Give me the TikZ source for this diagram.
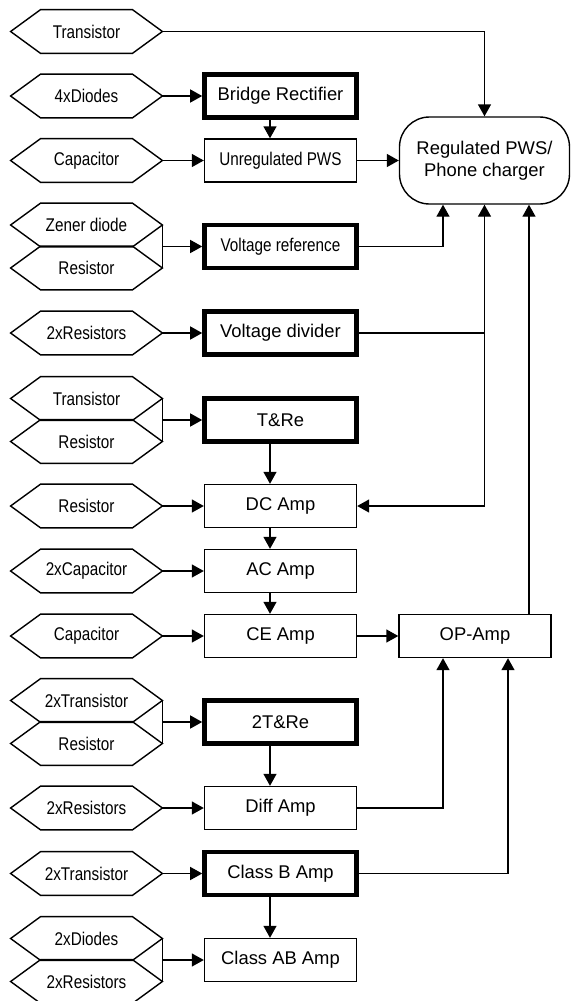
\documentclass[tikz,border=0pt]{standalone}
\usepackage{fontspec}
\setmainfont{Liberation Sans}
\newfontfamily\narrowfont{Liberation Sans}[FakeStretch=0.83]
\newcommand{\narrowtext}{\narrowfont\fontsize{9.2}{11}\selectfont}
\usepackage{tikz}
\usetikzlibrary{positioning}
\usetikzlibrary{shapes.misc,arrows.meta}
\tikzstyle{part} = [rectangle, minimum width=75.5pt, minimum height=21.5pt, inner sep=0pt, text centered, font=\narrowtext,
    append after command={\pgfextra{\draw[line width=.7pt] (\tikzlastnode.west) -- ([xshift=15pt]\tikzlastnode.north west) -- ([xshift=-15pt]\tikzlastnode.north east) -- (\tikzlastnode.east) -- ([xshift=-15pt]\tikzlastnode.south east) -- ([xshift=15pt]\tikzlastnode.south west) -- cycle;}}]
\tikzstyle{stage} = [rectangle, draw, line width=.7pt, minimum width=76pt, minimum height=21.5pt, inner sep=0pt, text centered]
\tikzstyle{keystage} = [stage, line width=2.3pt]
\tikzstyle{goal} = [rectangle, rounded corners=15pt, draw, line width=.7pt, minimum width=85pt, minimum height=43.5pt, inner sep=0pt, align=center]
\tikzstyle{flow} = [draw, line width=.7pt, -{Triangle[length=6pt,width=6.5pt]}]
\tikzstyle{wire} = [draw, line width=.7pt]

\begin{document}
\begin{tikzpicture}[x=0.5pt, y=-0.5pt, font=\fontsize{9.2}{11}\selectfont]
	\useasboundingbox (0,0) rectangle (570,1001);
	% stages
	\node [keystage] (br) at (280.5,96) {Bridge Rectifier};
	\node [stage, font=\narrowtext, below of=br, node distance=32.25pt] (unreg) {Unregulated PWS};
	\node [keystage, font=\narrowtext, below of=unreg, node distance=43pt] (vref) {Voltage reference};
	\node [keystage, below of=vref, node distance=43.25pt] (vdiv) {Voltage divider};
	\node [keystage, below of=vdiv, node distance=43.5pt] (tre) {T\&Re};
	\node [stage, below of=tre, node distance=43pt] (dc) {DC Amp};
	\node [stage, below of=dc, node distance=32.5pt] (ac) {AC Amp};
	\node [stage, below of=ac, node distance=32.5pt] (ce) {CE Amp};
	\node [keystage, below of=ce, node distance=43pt] (tre2) {2T\&Re};
	\node [stage, below of=tre2, node distance=43pt] (diff) {Diff Amp};
	\node [keystage, below of=diff, node distance=32.75pt] (clb) {Class B Amp};
	\node [stage, below of=clb, node distance=43.25pt] (clab) {Class AB Amp};
	\node [goal, right of=unreg, node distance=102pt] (reg) {Regulated PWS/\\Phone charger};
	\node [stage, right of=ce, node distance=97.25pt] (op) {OP-Amp};

	% parts
	\node [part, left of=br, node distance=97pt] (dio4) {4xDiodes};
	\node [part, above of=dio4, node distance=32.25pt] (tr1) {Transistor};
	\node [part, left of=unreg, node distance=97pt] (cap1) {Capacitor};
	\node [part, left of=vref, node distance=97pt, yshift=10.75pt] (zen) {Zener diode};
	\node [part, below of=zen, node distance=21.5pt] (res1) {Resistor};
	\node [part, left of=vdiv, node distance=97pt] (res2) {2xResistors};
	\node [part, left of=tre, node distance=97pt, yshift=10.75pt] (tr2) {Transistor};
	\node [part, below of=tr2, node distance=21.5pt] (res3) {Resistor};
	\node [part, left of=dc, node distance=97pt] (res4) {Resistor};
	\node [part, left of=ac, node distance=97pt] (cap2) {2xCapacitor};
	\node [part, left of=ce, node distance=97pt] (cap3) {Capacitor};
	\node [part, left of=tre2, node distance=97pt, yshift=10.75pt] (tr3) {2xTransistor};
	\node [part, below of=tr3, node distance=21.5pt] (res5) {Resistor};
	\node [part, left of=diff, node distance=97pt] (res6) {2xResistors};
	\node [part, left of=clb, node distance=97pt] (tr4) {2xTransistor};
	\node [part, left of=clab, node distance=97pt, yshift=10.75pt] (dio2) {2xDiodes};
	\node [part, below of=dio2, node distance=21.5pt] (res7) {2xResistors};

	% draw edges
	\path [flow] (tr1.east) -| (reg.north);
	\path [flow] (dio4) -- (br);
	\path [flow] ([xshift=-5.25pt]br.south) -- ([xshift=-5.25pt]unreg.north);
	\path [flow] (cap1) -- (unreg);
	\path [flow] (unreg) -- (reg);
	\path [wire] (zen.east) -- (res1.east);
	\path [flow] (zen.east |- vref.west) -- (vref.west);
	\path [flow] (vref.east) -| ([xshift=-20.75pt]reg.south);
	\path [flow] (res2) -- (vdiv);
	\path [flow] (vdiv.east) -| (reg.south);
	\path [flow] (vdiv.east) -| (reg.south |- dc.east) -- (dc.east);
	\path [wire] (tr2.east) -- (res3.east);
	\path [flow] (tr2.east |- tre.west) -- (tre.west);
	\path [flow] ([xshift=-5.25pt]tre.south) -- ([xshift=-5.25pt]dc.north);
	\path [flow] (res4) -- (dc);
	\path [flow] ([xshift=-5.25pt]dc.south) -- ([xshift=-5.25pt]ac.north);
	\path [flow] (cap2) -- (ac);
	\path [flow] ([xshift=-5.25pt]ac.south) -- ([xshift=-5.25pt]ce.north);
	\path [flow] (cap3) -- (ce);
	\path [flow] (ce) -- (op);
	\path [flow] ([xshift=27pt]op.north) -- ([xshift=27pt]op.north |- reg.south);
	\path [wire] (tr3.east) -- (res5.east);
	\path [flow] (tr3.east |- tre2.west) -- (tre2.west);
	\path [flow] ([xshift=-5.25pt]tre2.south) -- ([xshift=-5.25pt]diff.north);
	\path [flow] (res6) -- (diff);
	\path [flow] (diff.east) -| ([xshift=-16pt]op.south);
	\path [flow] (tr4) -- (clb);
	\path [flow] (clb.east) -| ([xshift=16.5pt]op.south);
	\path [flow] ([xshift=-5.25pt]clb.south) -- ([xshift=-5.25pt]clab.north);
	\path [wire] (dio2.east) -- (res7.east);
	\path [flow] (dio2.east |- clab.west) -- (clab.west);
\end{tikzpicture}
\end{document}
